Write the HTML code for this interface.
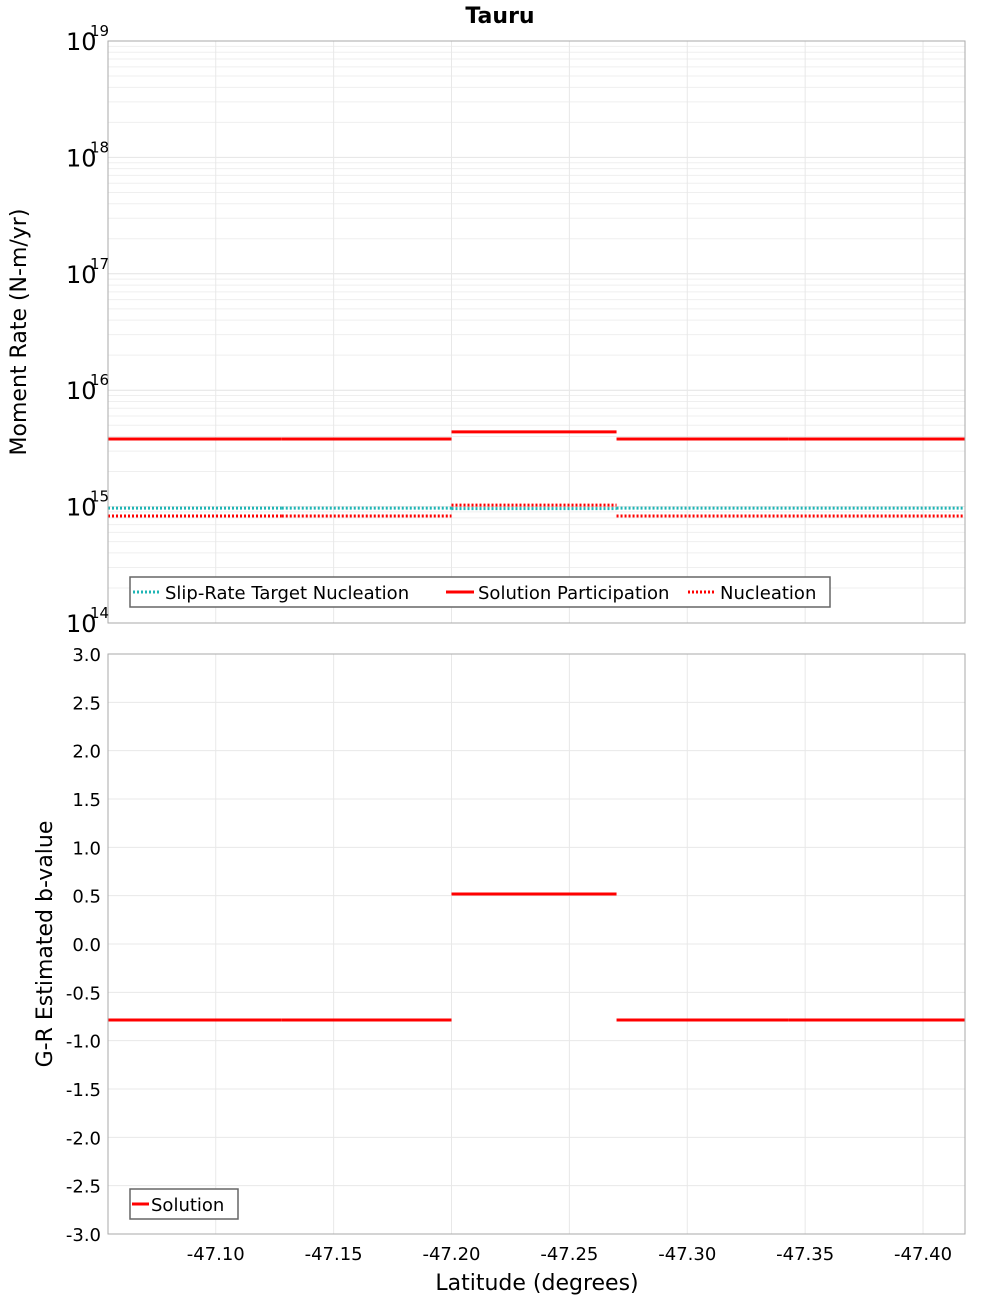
<!DOCTYPE html>
<html><head><meta charset="utf-8"><style>
body{margin:0;background:#fff;}
svg{display:block;font-family:"DejaVu Sans","Liberation Sans",sans-serif;}
</style></head><body>
<svg id="chart" width="1000" height="1300" xmlns="http://www.w3.org/2000/svg"></svg>
<script>
// Data
const segStarts = [-47.0543, -47.128, -47.20, -47.27, -47.343];
const segEnds = [-47.128, -47.20, -47.27, -47.343, -47.4178];
const targetNucleation = [9.7e14, 9.7e14, 9.6e14, 9.7e14, 9.7e14];
const solutionParticipation = [3.81e15, 3.81e15, 4.38e15, 3.81e15, 3.81e15];
const nucleation = [8.3e14, 8.3e14, 1.03e15, 8.3e14, 8.3e14];
const bValues = [-0.786, -0.786, 0.517, -0.786, -0.786];
const xTicks = [-47.10, -47.15, -47.20, -47.25, -47.30, -47.35, -47.40];
const xTickLabels = ["-47.10", "-47.15", "-47.20", "-47.25", "-47.30", "-47.35", "-47.40"];
const logExps = [14, 15, 16, 17, 18, 19];
const bTicks = [-3.0, -2.5, -2.0, -1.5, -1.0, -0.5, 0.0, 0.5, 1.0, 1.5, 2.0, 2.5, 3.0];

const NS = "http://www.w3.org/2000/svg";
const svg = document.getElementById('chart');
const L = 108, R = 965;
const T1 = 41, B1 = 623, T2 = 654, B2 = 1234;
const xMin = -47.0543, xMax = -47.4178;
function xs(v){ return L + (v - xMin) / (xMax - xMin) * (R - L); }
function ysLog(v){ return B1 - (Math.log10(v) - 14) / 5 * (B1 - T1); }
function ysB(v){ return B2 - (v + 3) / 6 * (B2 - T2); }
function mk(tag, attrs, parent){
  const e = document.createElementNS(NS, tag);
  for (const k in attrs) e.setAttribute(k, attrs[k]);
  (parent || svg).appendChild(e);
  return e;
}

// title
let t = mk('text', {x:500, y:23, 'text-anchor':'middle', 'font-size':22, 'font-weight':'bold'});
t.textContent = 'Tauru';



// ===== top panel grid
const g1 = mk('g', {});


for (let e = 14; e < 19; e++) {
  for (let m = 1; m <= 9; m++) {
    const y = ysLog(m * Math.pow(10, e));
    mk('line', {x1:L, x2:R, y1:y, y2:y, stroke: m===1 ? '#e4e4e4' : '#efefef', 'stroke-width':1}, g1);
  }
}
for (const v of xTicks) {
  const x = xs(v);
  mk('line', {x1:x, x2:x, y1:T1, y2:B1, stroke:'#e8e8e8', 'stroke-width':1}, g1);
}
// ===== bottom panel grid
const g2 = mk('g', {});


for (const v of bTicks) {
  const y = ysB(v);
  mk('line', {x1:L, x2:R, y1:y, y2:y, stroke:'#e8e8e8', 'stroke-width':1}, g2);
}
for (const v of xTicks) {
  const x = xs(v);
  mk('line', {x1:x, x2:x, y1:T2, y2:B2, stroke:'#e8e8e8', 'stroke-width':1}, g2);
}

// ===== top series
function drawSegs(vals, yfn, color, dash, name){
  const g = mk('g', {});
  
  
  for (let i = 0; i < vals.length; i++) {
    const y = yfn(vals[i]);
    const a = {x1:xs(segStarts[i]), x2:xs(segEnds[i]), y1:y, y2:y, stroke:color, 'stroke-width':3};
    if (dash) a['stroke-dasharray'] = dash;
    const ln = mk('line', a, g);
    
    
  }
}
drawSegs(targetNucleation, ysLog, '#1fb5b5', '2,2', 'slip-rate-target-nucleation-series');
drawSegs(solutionParticipation, ysLog, '#ff0000', null, 'solution-participation-series');
drawSegs(nucleation, ysLog, '#ff0000', '2,2', 'nucleation-series');
drawSegs(bValues, ysB, '#ff0000', null, 'b-value-solution-series');

// frames
let f = mk('rect', {x:L, y:T1, width:R-L, height:B1-T1, fill:'none', stroke:'#aaaaaa', 'stroke-width':1});


f = mk('rect', {x:L, y:T2, width:R-L, height:B2-T2, fill:'none', stroke:'#aaaaaa', 'stroke-width':1});



// top y ticks
for (const e of logExps) {
  const y = ysLog(Math.pow(10, e));
  const tx = mk('text', {x:66, y:y + 9, 'font-size':24});
  tx.textContent = '10';
  
  
  const sp = mk('text', {x:90, y:y - 5, 'font-size':15});
  sp.textContent = String(e);
  
  
}
// bottom y ticks
for (const v of bTicks) {
  const y = ysB(v);
  const tx = mk('text', {x:101, y:y + 7, 'font-size':18, 'text-anchor':'end'});
  tx.textContent = v.toFixed(1);
  
  
}
// x ticks
for (let i = 0; i < xTicks.length; i++) {
  const tx = mk('text', {x:xs(xTicks[i]), y:1260, 'font-size':18, 'text-anchor':'middle'});
  tx.textContent = xTickLabels[i];
  
  
}
// axis titles
t = mk('text', {x:537, y:1290, 'font-size':22, 'text-anchor':'middle'});
t.textContent = 'Latitude (degrees)';


t = mk('text', {x:0, y:0, 'font-size':22, 'text-anchor':'middle', transform:'translate(26,332) rotate(-90)'});
t.textContent = 'Moment Rate (N-m/yr)';


t = mk('text', {x:0, y:0, 'font-size':22, 'text-anchor':'middle', transform:'translate(52,944) rotate(-90)'});
t.textContent = 'G-R Estimated b-value';



// legends
const lg1 = mk('g', {});


mk('rect', {x:130, y:577, width:700, height:30, fill:'#fff', stroke:'#666', 'stroke-width':1.5}, lg1);
const items = [
  {x:133, c:'#1fb5b5', d:'2,2', label:'Slip-Rate Target Nucleation'},
  {x:446, c:'#ff0000', d:null, label:'Solution Participation'},
  {x:688, c:'#ff0000', d:'2,2', label:'Nucleation'}
];
for (const it of items) {
  const a = {x1:it.x, x2:it.x + 28, y1:592, y2:592, stroke:it.c, 'stroke-width':3};
  if (it.d) a['stroke-dasharray'] = it.d;
  mk('line', a, lg1);
  const tx = mk('text', {x:it.x + 32, y:599, 'font-size':18}, lg1);
  tx.textContent = it.label;
  
  
}
const lg2 = mk('g', {});


mk('rect', {x:130, y:1189, width:108, height:30, fill:'#fff', stroke:'#666', 'stroke-width':1.5}, lg2);
mk('line', {x1:132, x2:149, y1:1204, y2:1204, stroke:'#ff0000', 'stroke-width':3}, lg2);
t = mk('text', {x:151, y:1211, 'font-size':18}, lg2);
t.textContent = 'Solution';


</script>
</body></html>
